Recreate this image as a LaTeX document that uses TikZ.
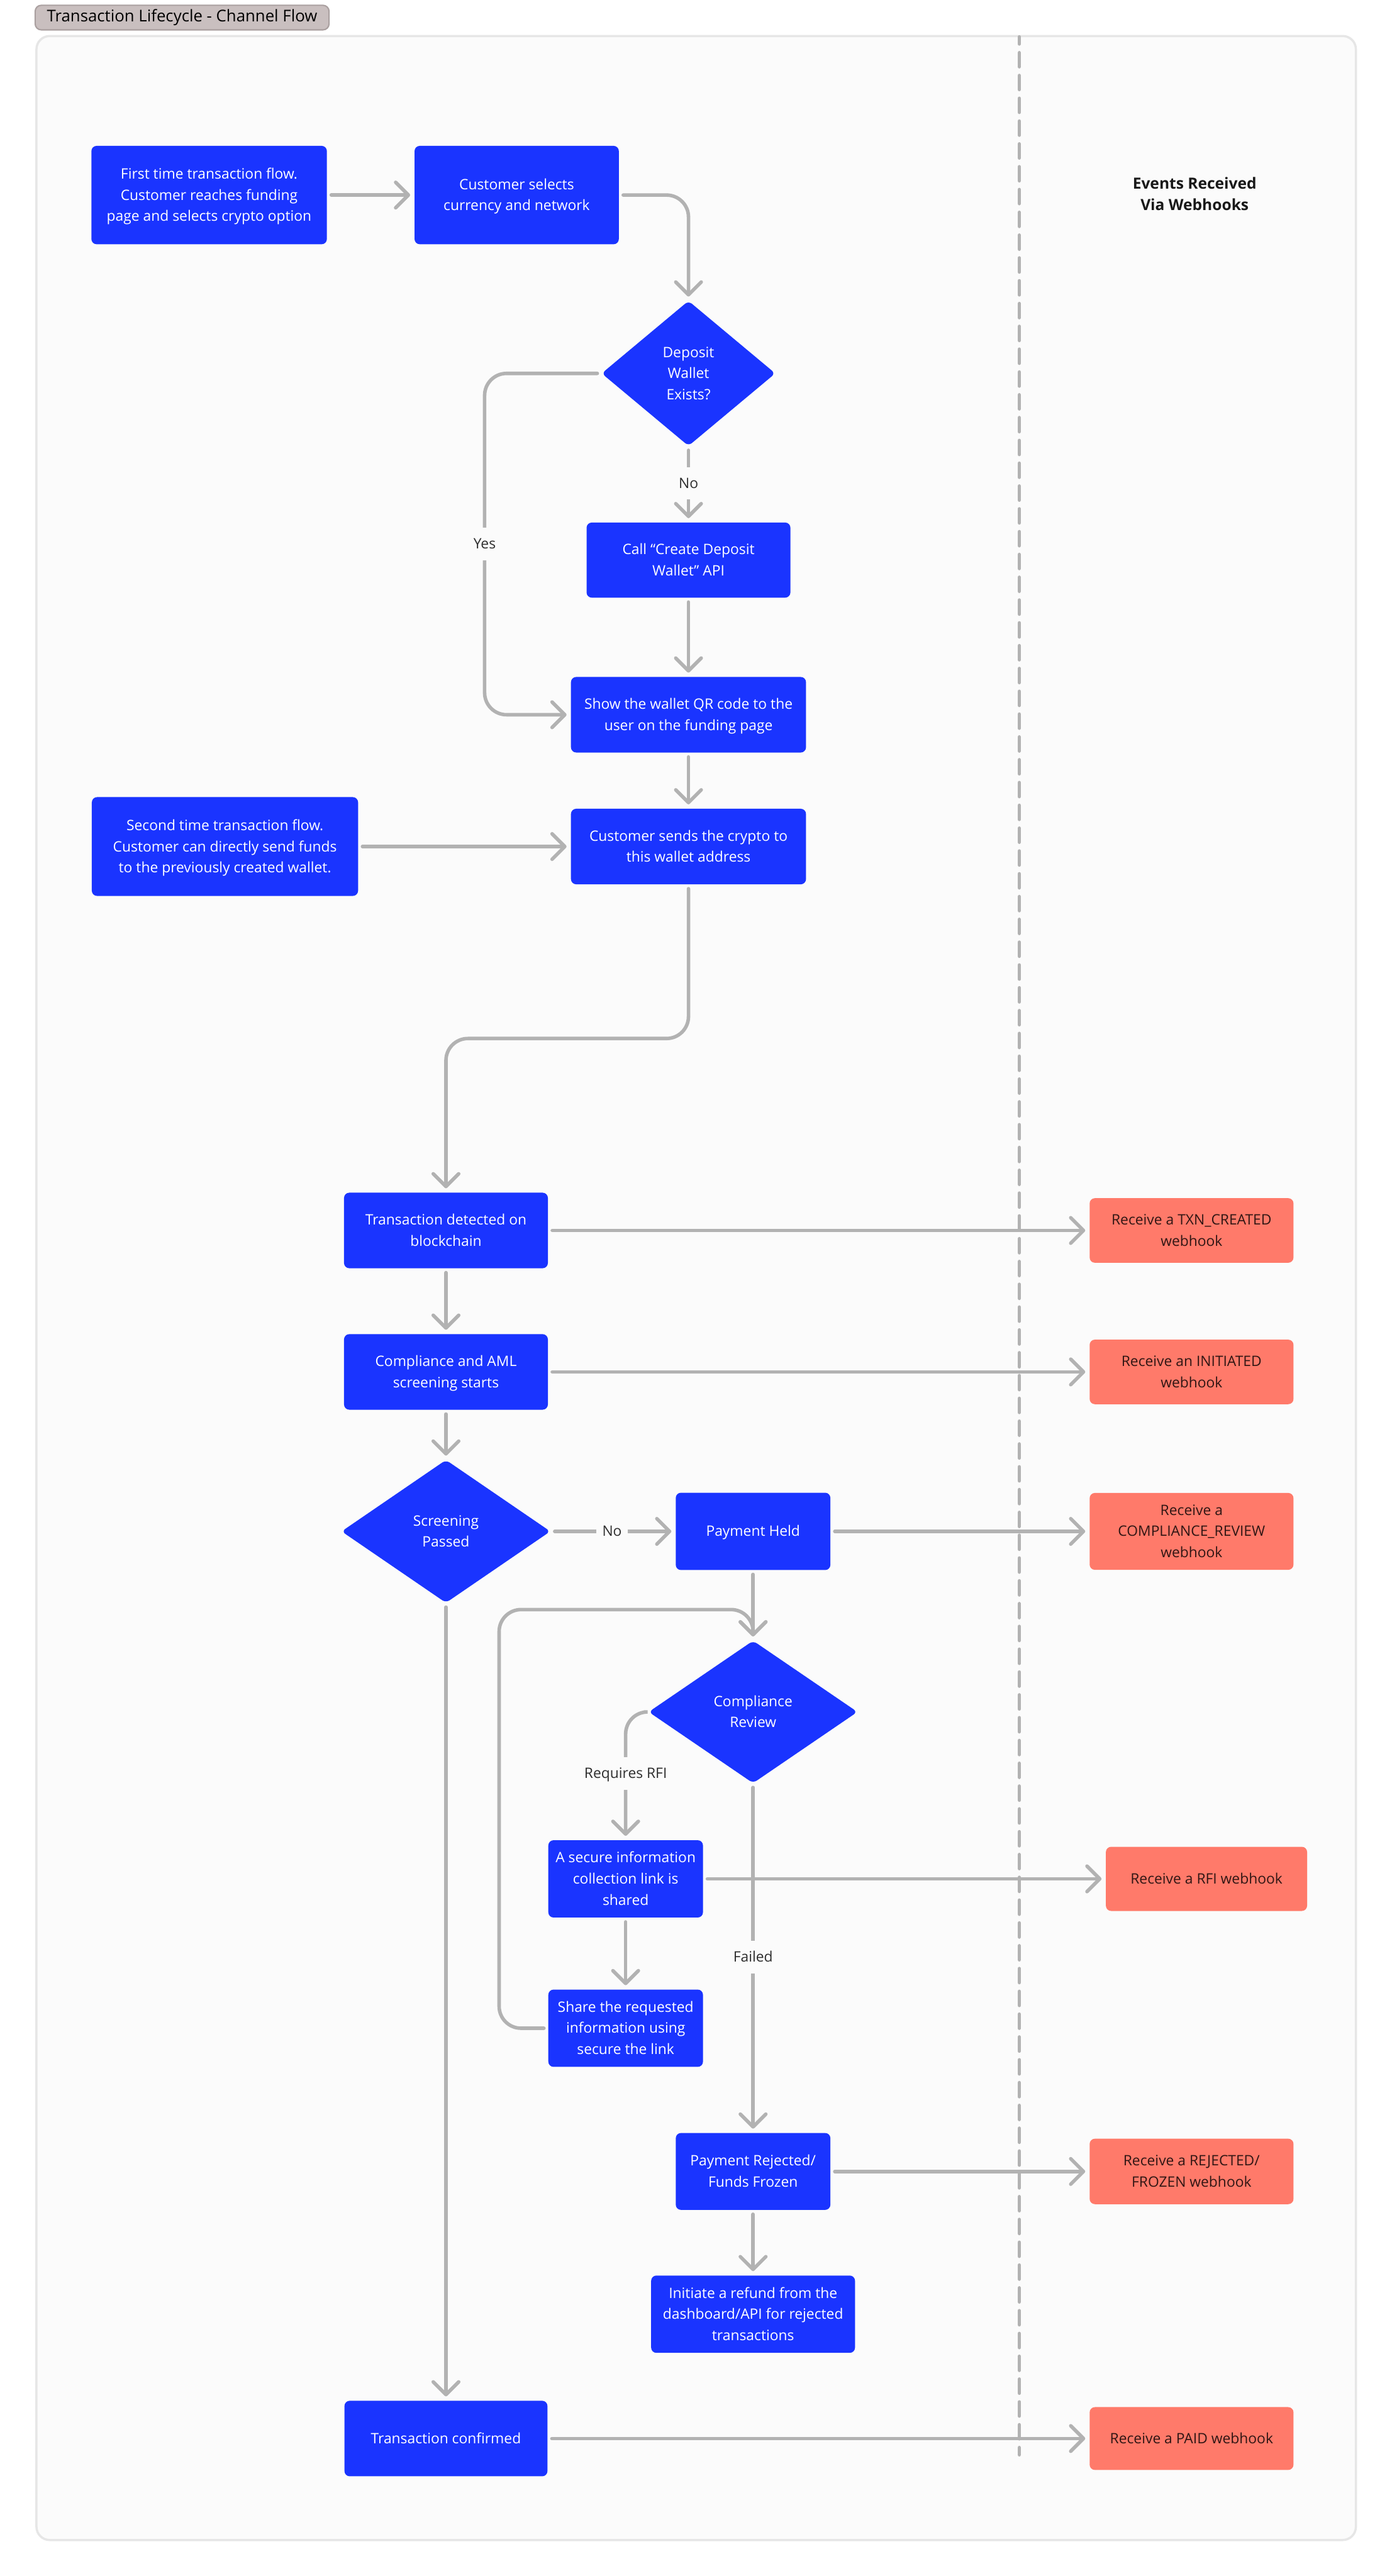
\documentclass[tikz,border=0pt]{standalone}
\usepackage{fontspec}
\setmainfont{Open Sans}
\usepackage{xcolor}
\usetikzlibrary{arrows.meta,shapes.geometric}
\definecolor{flowblue}{RGB}{26, 52, 255}
\definecolor{hookcoral}{RGB}{255, 122, 106}
\definecolor{panelbg}{RGB}{251, 251, 251}
\definecolor{panelline}{RGB}{230, 230, 230}
\definecolor{pillfill}{RGB}{201, 191, 191}
\definecolor{pillline}{RGB}{170, 160, 160}
\definecolor{linkgrey}{RGB}{178, 178, 178}
\definecolor{lbltext}{RGB}{46, 46, 46}
\definecolor{hooktext}{RGB}{48, 22, 20}
\tikzset{
  basefont/.style={font=\fontsize{9.3pt}{13.66pt}\selectfont,text depth=3.5pt},
  oneline/.style={text height=10pt},
  twolines/.style={text height=23.66pt},
  threelines/.style={text height=37.32pt},
  flowbox/.style 2 args={rectangle,rounded corners=1.2mm,fill=flowblue,text=white,align=center,
    inner sep=0pt,outer sep=0pt,minimum width=#1cm,minimum height=#2cm,basefont},
  hookbox/.style 2 args={flowbox={#1}{#2},fill=hookcoral,text=hooktext},
  flowdiamond/.style={diamond,rounded corners=1mm,fill=flowblue,text=white,align=center,
    inner sep=0pt,outer sep=0pt,basefont},
  link/.style={draw=linkgrey,line width=0.08cm,line cap=round,rounded corners=0.5cm,
    ->,>={Straight Barb[length=2.9mm,width=5.8mm,round]},shorten <=1mm,shorten >=1mm},
  lbl/.style={fill=panelbg,text=lbltext,inner xsep=1.4mm,inner ysep=0pt,minimum height=0.74cm,basefont,oneline},
}
\begin{document}
\begin{tikzpicture}[x=1cm,y=-1cm]
  \useasboundingbox (0,0) rectangle (31.68,58.64);
  \fill[white] (0,0) rectangle (31.68,58.64);

  % panel, title and divider
  \draw[fill=panelbg,draw=panelline,line width=0.05cm,rounded corners=3mm] (0.83,0.82) rectangle (30.86,57.82);
  \node[rectangle,rounded corners=1.4mm,fill=pillfill,draw=pillline,line width=0.03cm,minimum width=6.69cm,minimum height=0.56cm,
    inner sep=0pt,font=\fontsize{10.5pt}{12pt}\selectfont] (title) at (4.145,0.40) {Transaction Lifecycle - Channel Flow\hspace{0.15cm}};
  \coordinate (dividertop) at (23.20,0.84);
  \coordinate (dividerend) at (23.20,55.88);
  \draw[linkgrey,line width=0.08cm,line cap=round,dash pattern=on 3.2mm off 1.992mm,dash phase=1.6mm] (dividertop) -- (dividerend);
  \node[align=center,font=\bfseries\fontsize{10pt}{13.66pt}\selectfont,text=black!90] (eventshead) at (27.19,4.41) {Events Received\\Via Webhooks};

  % first part of the flow
  \node[flowbox={5.36}{2.24},threelines] (firstflow) at (4.76,4.44) {First time transaction flow.\\Customer reaches funding\\page and selects crypto option};
  \node[flowbox={4.65}{2.24},twolines] (selectcur) at (11.76,4.44) {Customer selects\\currency and network};
  \node[flowdiamond,threelines,minimum width=3.95cm,minimum height=3.3cm] (walletq) at (15.67,8.50) {Deposit\\Wallet\\Exists?};
  \node[flowbox={4.64}{1.71},twolines] (createapi) at (15.67,12.75) {Call “Create Deposit\\Wallet” API};
  \node[flowbox={5.35}{1.72},twolines] (showqr) at (15.67,16.27) {Show the wallet QR code to the\\user on the funding page};
  \node[flowbox={5.35}{1.72},twolines] (sendcrypto) at (15.67,19.27) {Customer sends the crypto to\\this wallet address};
  \node[flowbox={6.06}{2.25},threelines] (secondflow) at (5.12,19.27) {Second time transaction flow.\\Customer can directly send funds\\to the previously created wallet.};

  % screening part
  \node[flowbox={4.64}{1.72},twolines] (txndetect) at (10.15,28.01) {Transaction detected on\\blockchain};
  \node[flowbox={4.64}{1.72},twolines] (amlstart) at (10.15,31.23) {Compliance and AML\\screening starts};
  \node[flowdiamond,twolines,minimum width=4.75cm,minimum height=3.25cm] (screenq) at (10.15,34.86) {Screening\\Passed};
  \node[flowbox={3.52}{1.76},oneline] (payheld) at (17.14,34.86) {Payment Held};
  \node[flowdiamond,twolines,minimum width=4.75cm,minimum height=3.24cm] (reviewq) at (17.14,38.97) {Compliance\\Review};
  \node[flowbox={3.52}{1.76},threelines] (securelink) at (14.24,42.77) {A secure information\\collection link is\\shared};
  \node[flowbox={3.52}{1.76},threelines] (sharelink) at (14.24,46.17) {Share the requested\\information using\\secure the link};
  \node[flowbox={3.52}{1.75},twolines] (payreject) at (17.14,49.43) {Payment Rejected/\\Funds Frozen};
  \node[flowbox={4.64}{1.76},threelines] (refund) at (17.14,52.68) {Initiate a refund from the\\dashboard/API for rejected\\transactions};
  \node[flowbox={4.62}{1.72},oneline] (txnconfirm) at (10.15,55.51) {Transaction confirmed};

  % webhook boxes
  \node[hookbox={4.64}{1.47},twolines] (hookcreated) at (27.12,28.01) {Receive a TXN\_CREATED\\webhook};
  \node[hookbox={4.64}{1.47},twolines] (hookinit) at (27.12,31.23) {Receive an INITIATED\\webhook};
  \node[hookbox={4.64}{1.75},threelines] (hookreview) at (27.12,34.86) {Receive a\\COMPLIANCE\_REVIEW\\webhook};
  \node[hookbox={4.58}{1.46},oneline] (hookrfi) at (27.46,42.77) {Receive a RFI webhook};
  \node[hookbox={4.64}{1.49},twolines] (hookreject) at (27.12,49.43) {Receive a REJECTED/\\FROZEN webhook};
  \node[hookbox={4.64}{1.43},oneline] (hookpaid) at (27.12,55.51) {Receive a PAID webhook};

  % bends
  \coordinate (yesbend) at (11.03,12.38);
  \coordinate (midbend) at (13.00,23.64);
  \coordinate (loopbend) at (11.36,36.64);

  \draw[link] (firstflow) -- (selectcur);
  \draw[link] (selectcur.east) -| (walletq.north);
  \draw[link] (walletq.west) -| (yesbend) |- (showqr.west);
  \draw[link] (walletq.south) -- (createapi.north);
  \draw[link] (createapi.south) -- (showqr.north);
  \draw[link] (showqr.south) -- (sendcrypto.north);
  \draw[link] (secondflow.east) -- (sendcrypto.west);
  \draw[link] (sendcrypto.south) |- (midbend) -| (txndetect.north);
  \draw[link] (txndetect.south) -- (amlstart.north);
  \draw[link] (amlstart.south) -- (screenq.north);
  \draw[link] (screenq.east) -- (payheld.west);
  \draw[link] (screenq.south) -- (txnconfirm.north);
  \draw[link] (payheld.south) -- (reviewq.north);
  \draw[link] (reviewq.west) -| (securelink.north);
  \draw[link] (reviewq.south) -- (payreject.north);
  \draw[link] (securelink.south) -- (sharelink.north);
  \draw[link] (sharelink.west) -| (loopbend) -| (reviewq.north);
  \draw[link] (payreject.south) -- (refund.north);
  \draw[link] (txndetect.east) -- (hookcreated.west);
  \draw[link] (amlstart.east) -- (hookinit.west);
  \draw[link] (payheld.east) -- (hookreview.west);
  \draw[link] (securelink.east) -- (hookrfi.west);
  \draw[link] (payreject.east) -- (hookreject.west);
  \draw[link] (txnconfirm.east) -- (hookpaid.west);

  % labels on the links
  \node[lbl] (yeslbl) at (yesbend) {Yes};
  \node[lbl] (nolbl) at (15.67,11.00) {No};
  \node[lbl] (heldlbl) at (13.93,34.86) {No};
  \node[lbl] (rfilbl) at (14.24,40.37) {Requires RFI};
  \node[lbl] (faillbl) at (17.14,44.55) {Failed};
\end{tikzpicture}
\end{document}
